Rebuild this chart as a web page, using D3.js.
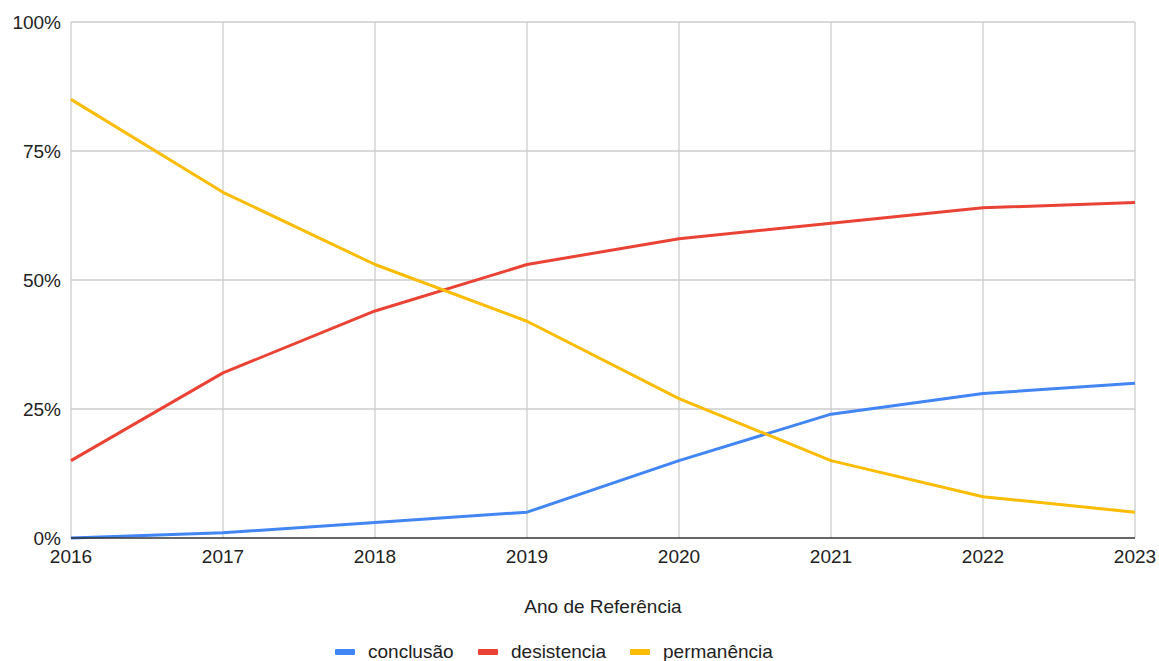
<!DOCTYPE html>
<html><head><meta charset="utf-8">
<script src="https://cdn.jsdelivr.net/npm/d3@7"></script>
<style>body{margin:0;background:#fff;} text{font-family:"Liberation Sans",Arial,sans-serif;fill:#222;}</style>
</head><body>
<svg id="c" width="1159" height="661"></svg>
<script>
const years = [2016, 2017, 2018, 2019, 2020, 2021, 2022, 2023];
const conclusao = [0, 1, 3, 5, 15, 24, 28, 30];
const desistencia = [15, 32, 44, 53, 58, 61, 64, 65];
const permanencia = [85, 67, 53, 42, 27, 15, 8, 5];
const yTicks = [0, 25, 50, 75, 100];
const seriesNames = ["conclusão", "desistencia", "permanência"];
const seriesColors = ["#4285F4", "#EA4335", "#FBBC04"];
const seriesData = [conclusao, desistencia, permanencia];

const svg = d3.select("#c");
const L = 71, R = 1135, T = 22, B = 538;
const x = d3.scaleLinear().domain([2016, 2023]).range([L, R]);
const y = d3.scaleLinear().domain([0, 100]).range([B, T]);

// grid
svg.append("g").selectAll("line").data(years).join("line")
  .attr("x1", d => x(d)).attr("x2", d => x(d)).attr("y1", T).attr("y2", B)
  .attr("stroke", "#cccccc").attr("stroke-width", 1.3);
svg.append("g").selectAll("line").data(yTicks.filter(d => d > 0)).join("line")
  .attr("x1", L).attr("x2", R).attr("y1", d => y(d)).attr("y2", d => y(d))
  .attr("stroke", "#cccccc").attr("stroke-width", 1.3);

// y labels
svg.append("g").selectAll("text").data(yTicks).join("text")
  .attr("x", L - 10).attr("y", d => y(d) + 7).attr("text-anchor", "end")
  .attr("font-size", 19).text(d => d + "%");
// x labels
svg.append("g").selectAll("text").data(years).join("text")
  .attr("x", d => x(d)).attr("y", B + 25).attr("text-anchor", "middle")
  .attr("font-size", 19).text(d => d);

// lines
const line = d3.line().x((d, i) => x(years[i])).y(d => y(d));
seriesData.forEach((s, k) => {
  svg.append("path").datum(s).attr("d", line).attr("fill", "none")
    .attr("stroke", seriesColors[k]).attr("stroke-width", 3).attr("stroke-linejoin", "round");
});

// baseline
svg.append("line").attr("x1", L).attr("x2", R).attr("y1", B).attr("y2", B)
  .attr("stroke", "#333").attr("stroke-width", 1.5);

// axis title
svg.append("text").attr("x", 603).attr("y", 613).attr("text-anchor", "middle")
  .attr("font-size", 19).text("Ano de Referência");

// legend
const legX = [335, 478, 630];
seriesNames.forEach((n, k) => {
  svg.append("rect").attr("x", legX[k]).attr("y", 649).attr("width", 20).attr("height", 6)
    .attr("rx", 1).attr("fill", seriesColors[k]);
  svg.append("text").attr("x", legX[k] + 33).attr("y", 658).attr("font-size", 19).text(n);
});
</script>
</body></html>
